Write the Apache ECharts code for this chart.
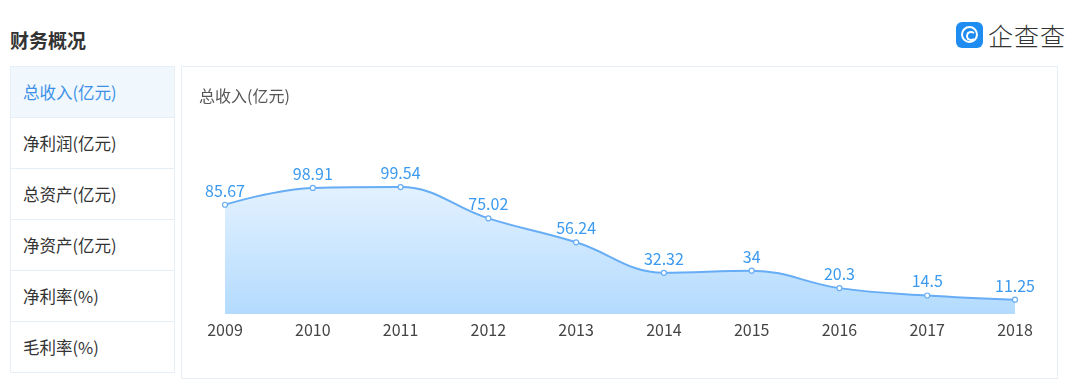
<!DOCTYPE html>
<html><head><meta charset="utf-8">
<script src="https://cdn.jsdelivr.net/npm/echarts@6/dist/echarts.min.js"></script>
<style>
html,body{margin:0;padding:0;background:#fff;width:1080px;height:383px;overflow:hidden;font-family:"Noto Sans CJK SC","Noto Sans",sans-serif;}
#title{position:absolute;left:10px;top:26px;font-size:19px;font-weight:bold;color:#333;line-height:28px;}
#logo{position:absolute;left:956px;top:22px;height:26px;display:flex;align-items:center;}
#logo .ic{width:27px;height:26px;border-radius:6px;background:#1e8cf0;position:relative;}
#logo .ic:before{content:"";position:absolute;left:5px;top:4px;width:13px;height:13px;border:2.5px solid #fff;border-radius:50%;}
#logo .ic:after{content:"";position:absolute;left:10px;top:9px;width:6px;height:6px;border:2px solid #fff;border-right-color:transparent;border-radius:50%;}
#logo .tx{margin-left:5px;font-size:25px;color:#333;letter-spacing:1px;font-weight:300;}
#menu{position:absolute;left:10px;top:66px;width:163px;border:1px solid #e8eef5;}
#menu .it{height:50px;border-top:1px solid #e8eef5;font-size:16.5px;color:#333;line-height:50px;padding-left:12px;}
#menu .it:first-child{border-top:none;background:#f0f7fd;color:#3c91e6;}
#panel{position:absolute;left:181px;top:66px;width:875px;height:311px;border:1px solid #e8eef5;}
#chart{position:absolute;left:0;top:0;width:875px;height:311px;}
</style></head>
<body>
<div id="title">财务概况</div>
<div id="logo"><div class="ic"></div><div class="tx">企查查</div></div>
<div id="menu"></div>
<div id="panel"><div id="chart"></div></div>
<script>
const menuItems = ["总收入(亿元)","净利润(亿元)","总资产(亿元)","净资产(亿元)","净利率(%)","毛利率(%)"];
const chartTitle = "总收入(亿元)";
const years = ["2009","2010","2011","2012","2013","2014","2015","2016","2017","2018"];
const revenue = [85.67, 98.91, 99.54, 75.02, 56.24, 32.32, 34, 20.3, 14.5, 11.25];

const menu = document.getElementById('menu');
menuItems.forEach(t => { const d = document.createElement('div'); d.className = 'it'; d.textContent = t; menu.appendChild(d); });

const chart = echarts.init(document.getElementById('chart'));
chart.setOption({
  animation: false,
  title: { text: chartTitle, left: 12, top: 16, textStyle: { fontSize: 16, fontWeight: 'normal', color: '#555', fontFamily: 'Noto Sans CJK SC' } },
  grid: { left: 43, right: 42, top: 94, bottom: 64 },
  xAxis: {
    type: 'category', data: years, boundaryGap: false,
    axisLine: { show: false }, axisTick: { show: false },
    axisLabel: { color: '#444', fontSize: 16, margin: 8, fontFamily: 'Noto Sans CJK SC' }
  },
  yAxis: { type: 'value', min: 0, max: 120, show: false, splitLine: { show: false } },
  series: [{
    type: 'line', data: revenue, smooth: 0.4,
    symbol: 'circle', symbolSize: 5,
    itemStyle: { color: '#fff', borderColor: '#66adf5', borderWidth: 1.2 },
    lineStyle: { color: '#66adf5', width: 2 },
    areaStyle: { opacity: 1, color: new echarts.graphic.LinearGradient(0, 0, 0, 1, [
      { offset: 0, color: '#e3f1fe' }, { offset: 1, color: '#b3dbfe' }]) },
    label: { show: true, position: 'top', color: '#3b9aef', fontSize: 16, distance: 3, fontFamily: 'Noto Sans CJK SC' }
  }]
});
</script>
</body></html>
